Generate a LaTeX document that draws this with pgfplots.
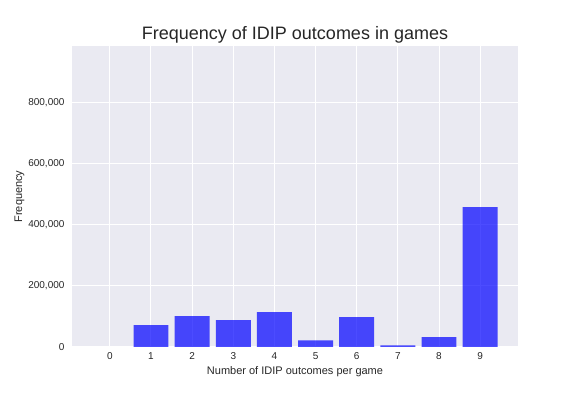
\documentclass[border=0pt]{standalone}
\usepackage{pgfplots}
\pgfplotsset{compat=1.18}
\usepackage{fontspec}
\setmainfont{Liberation Sans}
\definecolor{sbbg}{HTML}{EAEAF2}
\definecolor{sbtext}{HTML}{262626}
\begin{document}
\begin{tikzpicture}
\path[use as bounding box] (0,0) rectangle (576pt,396pt);
\begin{axis}[
  at={(72pt,49pt)}, anchor=south west,
  scale only axis, width=446pt, height=301pt,
  xmin=-0.92, xmax=9.92, ymin=0, ymax=986000,
  axis background/.style={fill=sbbg},
  axis line style={draw=none},
  major tick length=0pt,
  grid=major, grid style={white, line width=1pt},
  xtick={0,...,9},
  ytick={0,200000,400000,600000,800000},
  scaled y ticks=false,
  /pgf/number format/.cd, fixed, 1000 sep={,}, assume math mode=true,
  /pgfplots/.cd,
  tick label style={font=\fontsize{10}{12}\selectfont, text=sbtext},
  xticklabel style={yshift=-2pt},
  yticklabel style={xshift=-4pt},
  xlabel={Number of IDIP outcomes per game},
  ylabel={Frequency},
  ylabel style={yshift=-3pt},
  label style={font=\fontsize{11}{13}\selectfont, text=sbtext},
  title={Frequency of IDIP outcomes in games},
  title style={font=\fontsize{18}{21}\selectfont, text=sbtext, yshift=-7pt},
  ybar, bar width=0.85, bar shift=0pt,
]
\addplot[draw=none, fill=blue, fill opacity=0.7] coordinates {
(1,71600) (2,101400) (3,88200) (4,114600) (5,22000) (6,98100) (7,5500) (8,32000) (9,458400)
};
\end{axis}
\end{tikzpicture}
\end{document}
